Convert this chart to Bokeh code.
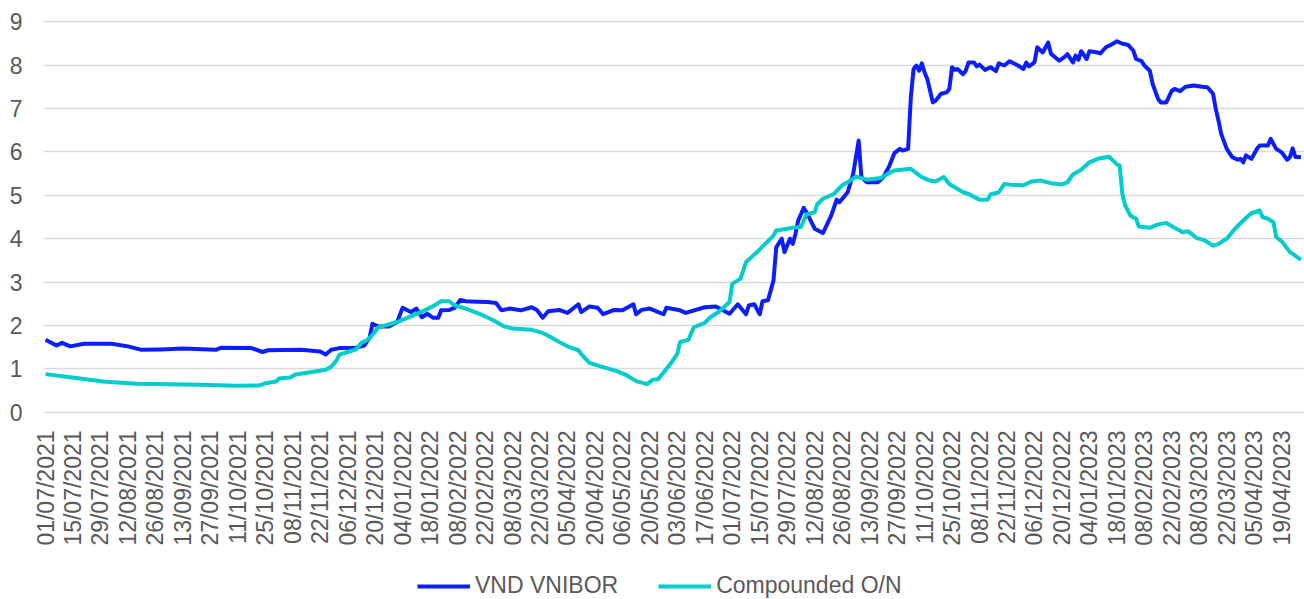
import math
from bokeh.plotting import figure
from bokeh.layouts import column
from bokeh.models import FixedTicker, Range1d, Legend, LegendItem
from bokeh.embed import file_html
from bokeh.resources import INLINE

# Category tick labels (every 10 business days)
tick_labels = [
    "01/07/2021", "15/07/2021", "29/07/2021", "12/08/2021", "26/08/2021", "13/09/2021",
    "27/09/2021", "11/10/2021", "25/10/2021", "08/11/2021", "22/11/2021", "06/12/2021",
    "20/12/2021", "04/01/2022", "18/01/2022", "08/02/2022", "22/02/2022", "08/03/2022",
    "22/03/2022", "05/04/2022", "20/04/2022", "06/05/2022", "20/05/2022", "03/06/2022",
    "17/06/2022", "01/07/2022", "15/07/2022", "29/07/2022", "12/08/2022", "26/08/2022",
    "13/09/2022", "27/09/2022", "11/10/2022", "25/10/2022", "08/11/2022", "22/11/2022",
    "06/12/2022", "20/12/2022", "04/01/2023", "18/01/2023", "08/02/2023", "22/02/2023",
    "08/03/2023", "22/03/2023", "05/04/2023", "19/04/2023",
]
tick_step = 10

# VND VNIBOR: business-day index and rate (%)
vnibor_day = [0, 4, 6, 9, 14, 24, 30, 35, 42, 50, 62, 64, 75, 79, 81, 93, 97, 100, 102, 104,
              107, 113, 116, 118, 119, 121, 125, 128, 130, 133, 135, 137, 139, 141, 143, 144,
              147, 149, 151, 153, 157, 161, 164, 166, 169, 173, 177, 179, 181, 183, 187, 190,
              194, 195, 198, 201, 203, 207, 210, 214, 215, 217, 220, 225, 226, 231, 233, 240,
              244, 249, 252, 255, 256, 258, 260, 261, 263, 264, 265, 266, 268, 269, 271, 272,
              273, 274, 276, 277, 280, 283, 286, 288, 289, 292, 294, 296, 297, 299, 303, 305,
              307, 309, 311, 312, 314, 315, 316, 317, 318, 319, 320, 321, 323, 324, 326, 328,
              329, 330, 331, 332, 334, 335, 336, 338, 339, 340, 342, 344, 346, 347, 349, 351,
              354, 356, 357, 358, 360, 361, 363, 365, 366, 369, 371, 372, 374, 375, 376, 377,
              379, 380, 383, 384, 386, 388, 390, 392, 394, 396, 397, 399, 400, 402, 403, 405,
              406, 408, 410, 411, 413, 415, 418, 421, 423, 425, 426, 427, 428, 430, 432, 434,
              435, 436, 437, 439, 441, 442, 445, 446, 448, 450, 452, 453, 454, 455, 457]
vnibor_rate = [1.67, 1.54, 1.60, 1.52, 1.58, 1.58, 1.52, 1.44, 1.45, 1.47, 1.44, 1.49, 1.48, 1.39,
               1.43, 1.44, 1.42, 1.40, 1.33, 1.44, 1.48, 1.49, 1.54, 1.72, 2.04, 1.98, 1.98, 2.08,
               2.41, 2.31, 2.39, 2.19, 2.27, 2.18, 2.18, 2.35, 2.36, 2.41, 2.59, 2.56, 2.55, 2.54,
               2.52, 2.35, 2.39, 2.35, 2.42, 2.35, 2.18, 2.33, 2.36, 2.29, 2.49, 2.31, 2.44, 2.41,
               2.26, 2.36, 2.35, 2.49, 2.26, 2.36, 2.39, 2.26, 2.41, 2.35, 2.29, 2.42, 2.44, 2.27,
               2.49, 2.26, 2.46, 2.49, 2.26, 2.56, 2.58, 2.81, 3.04, 3.80, 4.00, 3.69, 4.00, 3.88,
               4.11, 4.42, 4.71, 4.61, 4.23, 4.13, 4.53, 4.90, 4.84, 5.07, 5.49, 6.26, 5.42, 5.30,
               5.30, 5.42, 5.65, 5.97, 6.07, 6.03, 6.07, 7.26, 7.91, 7.99, 7.87, 8.04, 7.83, 7.68,
               7.14, 7.18, 7.34, 7.37, 7.45, 7.95, 7.89, 7.91, 7.79, 7.87, 8.06, 8.06, 7.97, 8.01,
               7.89, 7.95, 7.86, 8.04, 7.99, 8.09, 7.99, 7.91, 8.06, 7.97, 8.06, 8.41, 8.29, 8.52,
               8.26, 8.10, 8.19, 8.25, 8.06, 8.22, 8.12, 8.32, 8.14, 8.32, 8.29, 8.27, 8.41, 8.47,
               8.55, 8.49, 8.47, 8.33, 8.14, 8.09, 7.99, 7.87, 7.57, 7.22, 7.14, 7.14, 7.41, 7.45,
               7.40, 7.50, 7.53, 7.50, 7.49, 7.34, 6.99, 6.72, 6.41, 6.07, 5.88, 5.82, 5.84, 5.76,
               5.92, 5.84, 6.07, 6.15, 6.15, 6.30, 6.07, 5.99, 5.82, 5.88, 6.08, 5.88, 5.88]

# Compounded O/N: business-day index and rate (%)
on_day = [0, 9, 21, 33, 51, 60, 69, 78, 80, 84, 85, 89, 91, 97, 102, 104, 106, 107, 110, 113,
          115, 117, 119, 121, 128, 133, 138, 141, 144, 147, 149, 153, 158, 163, 167, 170, 177,
          181, 184, 187, 190, 194, 196, 198, 203, 208, 211, 215, 219, 221, 223, 226, 228, 230,
          231, 234, 236, 240, 242, 245, 249, 250, 253, 255, 259, 262, 265, 266, 270, 272, 275,
          277, 280, 281, 283, 287, 290, 292, 295, 299, 304, 307, 309, 315, 319, 322, 324, 327,
          329, 334, 336, 340, 343, 344, 347, 349, 352, 356, 359, 362, 366, 370, 372, 374, 377,
          380, 383, 387, 388, 390, 391, 392, 393, 395, 397, 398, 402, 405, 408, 411, 414, 416,
          419, 422, 425, 427, 430, 433, 436, 439, 442, 443, 445, 447, 448, 450, 453, 454, 457]
on_rate = [0.88, 0.81, 0.71, 0.66, 0.64, 0.63, 0.61, 0.62, 0.67, 0.71, 0.78, 0.80, 0.87, 0.93,
           0.98, 1.05, 1.20, 1.33, 1.39, 1.45, 1.60, 1.66, 1.78, 1.95, 2.08, 2.21, 2.35, 2.44,
           2.56, 2.56, 2.46, 2.39, 2.27, 2.12, 1.98, 1.93, 1.90, 1.83, 1.73, 1.62, 1.52, 1.43,
           1.27, 1.14, 1.04, 0.95, 0.87, 0.72, 0.65, 0.75, 0.76, 1.00, 1.16, 1.35, 1.62, 1.67,
           1.96, 2.06, 2.19, 2.31, 2.54, 2.96, 3.08, 3.46, 3.69, 3.88, 4.07, 4.19, 4.23, 4.25,
           4.27, 4.56, 4.61, 4.80, 4.92, 5.03, 5.23, 5.30, 5.43, 5.36, 5.40, 5.51, 5.57, 5.61,
           5.42, 5.34, 5.32, 5.42, 5.26, 5.07, 5.03, 4.90, 4.90, 5.02, 5.07, 5.26, 5.24, 5.23,
           5.32, 5.34, 5.28, 5.25, 5.30, 5.48, 5.59, 5.76, 5.84, 5.89, 5.84, 5.71, 5.69, 5.03,
           4.77, 4.53, 4.46, 4.28, 4.25, 4.33, 4.36, 4.25, 4.15, 4.17, 4.02, 3.96, 3.84, 3.88,
           4.00, 4.23, 4.42, 4.59, 4.65, 4.50, 4.46, 4.38, 4.04, 3.94, 3.69, 3.65, 3.51]

series_names = ["VND VNIBOR", "Compounded O/N"]
series_colors = ["#0A1EFF", "#00CCCC"]
y_ticks = list(range(0, 10))

FONT = "Liberation Sans"
TXT = "#595959"
LW = 4

p = figure(width=1304, height=566, output_backend="svg", toolbar_location=None,
           x_range=Range1d(-0.73, 458.3), y_range=Range1d(-0.05, 9.05),
           min_border_left=43, min_border_right=0, min_border_top=19, min_border_bottom=152)
p.outline_line_color = None
p.background_fill_color = "white"
p.border_fill_color = "white"

ticks = [i * tick_step for i in range(len(tick_labels))]
p.xaxis.ticker = FixedTicker(ticks=ticks)
p.xaxis.major_label_overrides = {t: lab for t, lab in zip(ticks, tick_labels)}
p.xaxis.major_label_orientation = math.pi / 2
p.xaxis.axis_line_color = None
p.xaxis.major_tick_line_color = None
p.xaxis.minor_tick_line_color = None
p.xaxis.major_tick_out = 0
p.xaxis.major_tick_in = 0
p.xaxis.minor_tick_out = 0
p.xaxis.major_label_standoff = 16
p.xaxis.major_label_text_font = FONT
p.xaxis.major_label_text_font_size = "23px"
p.xaxis.major_label_text_color = TXT

p.yaxis.ticker = FixedTicker(ticks=y_ticks)
p.yaxis.axis_line_color = None
p.yaxis.major_tick_line_color = None
p.yaxis.minor_tick_line_color = None
p.yaxis.major_tick_out = 0
p.yaxis.major_tick_in = 0
p.yaxis.minor_tick_out = 0
p.yaxis.major_label_standoff = 21
p.yaxis.major_label_text_font = FONT
p.yaxis.major_label_text_font_size = "23px"
p.yaxis.major_label_text_color = TXT

p.xgrid.visible = False
p.ygrid.grid_line_color = "#d9d9d9"
p.ygrid.grid_line_width = 1.5

series = [(vnibor_day, vnibor_rate), (on_day, on_rate)]
for (xs, ys), col in zip(series, series_colors):
    p.line(xs, ys, line_color=col, line_width=LW, line_join="round")

# Legend strip below the chart (separate panel so it is not clipped by the plot frame)
leg = figure(width=1304, height=33, output_backend="svg", toolbar_location=None,
             x_range=Range1d(0, 1), y_range=Range1d(0, 1),
             x_axis_type=None, y_axis_type=None,
             min_border_left=0, min_border_right=0, min_border_top=0, min_border_bottom=0)
leg.outline_line_color = None
leg.xgrid.visible = False
leg.ygrid.visible = False
items = []
for name, col, (xs, ys) in zip(series_names, series_colors, series):
    r = leg.line(xs, ys, line_color=col, line_width=LW, visible=False)
    items.append(LegendItem(label=name, renderers=[r]))
legend = Legend(items=items, orientation="horizontal", location=(374, 0),
                label_text_font=FONT, label_text_font_size="23px", label_text_color=TXT,
                glyph_width=53, glyph_height=20, label_standoff=5, spacing=40,
                padding=0, margin=0, border_line_color=None, background_fill_alpha=0,
                inactive_fill_alpha=0)
leg.add_layout(legend)

layout = column(p, leg, spacing=0)
open("out.html", "w").write(file_html(layout, INLINE))
